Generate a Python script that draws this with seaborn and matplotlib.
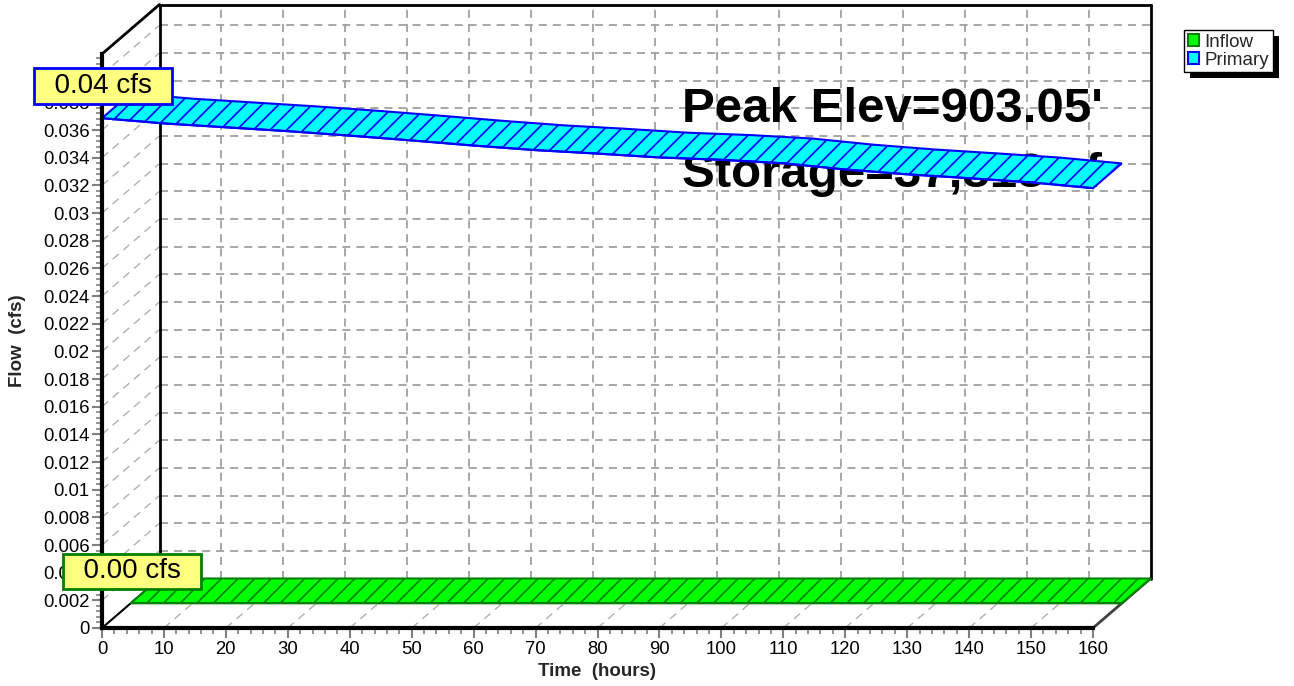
import numpy as np
import pandas as pd
import matplotlib
matplotlib.use("Agg")
import matplotlib.pyplot as plt
import seaborn as sns
from matplotlib.patches import Polygon, Patch, Rectangle
from matplotlib.ticker import MultipleLocator, FuncFormatter

# ---------------- data ----------------
times = [0, 10, 20, 30, 40, 50, 60, 70, 80, 90, 100, 110, 120, 130, 140, 150, 160]
inflow = [0.0] * 17
primary = [0.03686, 0.03648, 0.03620, 0.03592, 0.03560, 0.03525, 0.03488, 0.03455,
           0.03430, 0.03402, 0.03385, 0.03360, 0.03315, 0.03280, 0.03252, 0.03222, 0.03180]
series_names = ["Inflow", "Primary"]
peak_elev_text = "Peak Elev=903.05'"
storage_text = "Storage=37,818 cf"
x_label = "Time  (hours)"
y_label = "Flow  (cfs)"

# ---------------- style ----------------
sns.set_theme(style="ticks")
plt.rcParams["font.family"] = ["Liberation Sans", "DejaVu Sans"]
plt.rcParams["hatch.linewidth"] = 1.2
plt.rcParams["lines.scale_dashes"] = False

W, H = 1294, 686
fig = plt.figure(figsize=(W / 100, H / 100), dpi=100)
ax = fig.add_axes([102 / W, 58 / H, 991 / W, 574 / H])
XMAX, YMAX = 160, 0.0415
ax.set_xlim(0, XMAX)
ax.set_ylim(0, YMAX)
ax.patch.set_alpha(0)

# depth offset (full depth) in data units
DX = 57.5 * XMAX / 991
DY = 49.5 * YMAX / 574

grid_col = "#a0a0a0"
dash = (0, (5.8, 4.3))
yt_major = np.arange(0.002, 0.04001, 0.002)
xt_major = np.arange(10, 151, 10)

# back wall grid
for y in yt_major:
    ax.plot([DX, XMAX + DX], [y + DY, y + DY], color=grid_col, lw=1.3, ls=dash, clip_on=False, zorder=1)
    ax.plot([0, DX], [y, y + DY], color="#b0b0b0", lw=1.0, ls=dash, clip_on=False, zorder=1)
for x in xt_major:
    ax.plot([x + DX, x + DX], [DY, YMAX + DY], color=grid_col, lw=1.3, ls=dash, clip_on=False, zorder=1)
    ax.plot([x, x + DX], [0, DY], color="#b0b0b0", lw=1.0, ls=dash, clip_on=False, zorder=1)

# walls
wall = dict(color="black", lw=2, clip_on=False, zorder=2)
ax.plot([DX, XMAX + DX], [YMAX + DY, YMAX + DY], **wall)
ax.plot([DX, DX], [DY, YMAX + DY], **wall)
ax.plot([XMAX + DX, XMAX + DX], [DY, YMAX + DY], **wall)
ax.plot([0, DX], [YMAX, YMAX + DY], **wall)
ax.plot([0, DX], [0, DY], color="black", lw=1.5, clip_on=False, zorder=2)
ax.plot([XMAX, XMAX + DX], [0, DY], color="#404040", lw=2, clip_on=False, zorder=2)

# annotation text (behind ribbons)
ax.text((682 - 102) / 991, (628 - 122) / 574, peak_elev_text, transform=ax.transAxes,
        fontsize=35.5, fontweight="bold", ha="left", va="baseline", color="black", zorder=3)
ax.text((682 - 102) / 991, (628 - 187) / 574, storage_text, transform=ax.transAxes,
        fontsize=35.5, fontweight="bold", ha="left", va="baseline", color="black", zorder=3)


def ribbon(t, v, d0, d1, face, edge, z):
    t = np.asarray(t, float)
    v = np.asarray(v, float)
    front = np.column_stack([t + d0 * DX, v + d0 * DY])
    back = np.column_stack([t + d1 * DX, v + d1 * DY])
    poly = Polygon(np.vstack([front, back[::-1]]), closed=True, facecolor=face,
                   edgecolor=edge, hatch="//", lw=1.5, clip_on=False, zorder=z)
    ax.add_patch(poly)
    df = pd.DataFrame({"t": t + d0 * DX, "v": v + d0 * DY})
    sns.lineplot(data=df, x="t", y="v", ax=ax, color=edge, lw=1.5, clip_on=False, zorder=z + 0.1)


ribbon(times, inflow, 0.5, 1.0, "#00ff00", "#008000", 4)
ribbon(times, primary, 0.0, 0.5, "#00ffff", "#0000ff", 5)

# peak labels
for vals, d, ec in [(primary, 0.0, "#0000ff"), (inflow, 0.5, "#008000")]:
    i = int(np.argmax(vals))
    ax.annotate(f"  {max(vals):.2f} cfs  ", xy=(times[i] + d * DX, vals[i] + d * DY),
                xytext=(1, 32), textcoords="offset pixels", ha="center", va="center",
                fontsize=20, color="black", zorder=10, annotation_clip=False,
                bbox=dict(boxstyle="square,pad=0.17", facecolor="#ffff80", edgecolor=ec, lw=2))

# axes / ticks
ax.xaxis.set_major_locator(MultipleLocator(10))
ax.xaxis.set_minor_locator(MultipleLocator(2))
ax.yaxis.set_major_locator(MultipleLocator(0.002))
ax.yaxis.set_minor_locator(MultipleLocator(0.0004))
ax.yaxis.set_major_formatter(FuncFormatter(lambda v, p: f"{v:.3f}".rstrip("0").rstrip(".")))
ax.tick_params(which="major", direction="out", length=7, width=1.5, color="#808080",
               labelsize=13.3, pad=2, labelcolor="black", left=True, bottom=True)
ax.tick_params(which="minor", direction="out", length=4, width=1.2, color="#808080",
               left=True, bottom=True)
for s in ["top", "right"]:
    ax.spines[s].set_visible(False)
for s in ["left", "bottom"]:
    ax.spines[s].set_linewidth(3)
    ax.spines[s].set_color("black")
    ax.spines[s].set_zorder(6)

ax.set_xlabel(x_label, fontsize=13.5, fontweight="bold")
ax.set_ylabel(y_label, fontsize=13.5, fontweight="bold")
ax.xaxis.set_label_coords(0.5, -(663 - 628) / 574)
ax.yaxis.label.set_va("center")
ax.yaxis.set_label_coords(-(102 - 18) / 991, 0.5)

# legend
handles = [Patch(facecolor="#00ff00", edgecolor="#008000", lw=1.5),
           Patch(facecolor="#00ffff", edgecolor="#0000ff", lw=1.5)]
leg = fig.legend(handles, series_names, loc="upper left", bbox_to_anchor=(1184 / W, 1 - 30 / H),
                 frameon=True, fancybox=False, edgecolor="black", framealpha=1, fontsize=13.5,
                 handlelength=0.6, handleheight=0.6, handletextpad=0.3, borderpad=0.2,
                 labelspacing=0.05, borderaxespad=0)
leg.get_frame().set_linewidth(1.0)
leg.set_zorder(20)
fig.canvas.draw()
bb = leg.get_window_extent()
inv = fig.transFigure.inverted()
(x0, y0) = inv.transform((bb.x0 + 6, bb.y0 - 6))
(x1, y1) = inv.transform((bb.x1 + 6, bb.y1 - 6))
fig.add_artist(Rectangle((x0, y0), x1 - x0, y1 - y0, transform=fig.transFigure,
                         facecolor="black", edgecolor="none", zorder=19))

fig.savefig("out.png", dpi=100)
